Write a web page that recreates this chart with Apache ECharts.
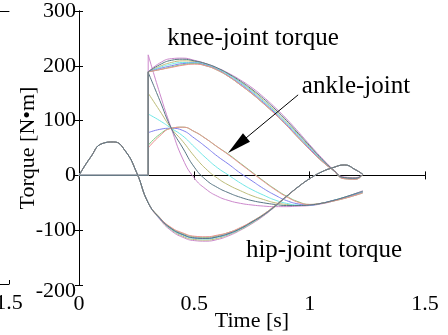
<!DOCTYPE html>
<html>
<head>
<meta charset="utf-8">
<script src="https://cdn.jsdelivr.net/npm/echarts@6/dist/echarts.min.js"></script>
<style>
html, body { margin: 0; padding: 0; background: #fff; }
#chart { width: 448px; height: 335px; }
</style>
</head>
<body>
<div id="chart"></div>
<script>
// axis ticks
var xTicks = [0, 0.5, 1, 1.5];
var yTicks = [-200, -100, 0, 100, 200, 300];

// time samples [s]
var tHip = [0, 0.05, 0.1, 0.15, 0.2, 0.25, 0.3, 0.35, 0.4, 0.45, 0.5, 0.55, 0.6, 0.65, 0.7,
  0.75, 0.8, 0.85, 0.9, 0.95, 1.0, 1.05, 1.1, 1.15, 1.2, 1.23];
var tPost = [0.3, 0.35, 0.4, 0.45, 0.5, 0.55, 0.6, 0.65, 0.7, 0.75, 0.8, 0.85, 0.9, 0.95,
  1.0, 1.05, 1.1, 1.15, 1.2, 1.23];
// before heel strike knee / ankle stay at 0, then jump
var tPre = [0, 0.3, 0.3];
var preZero = [0, 0];

// hip-joint torque, one array per run
var hipMagenta = [0, 33, 58, 61, 45, 5, -50, -80, -101, -113, -119, -120, -117, -110, -100, -88, -74, -57, -39, -21, -6, 6, 14, 19, 10, 2];
var hipOlive   = [0, 33, 58, 61, 45, 5, -50, -79, -99, -111, -117, -118, -115, -108, -99, -87, -73, -57, -39, -21, -6, 6, 14, 19, 10, 2];
var hipCyan    = [0, 33, 58, 61, 45, 5, -50, -78, -98, -109, -115, -116, -113, -107, -98, -86, -72, -56, -38, -21, -6, 6, 14, 19, 10, 2];
var hipBlue    = [0, 33, 58, 61, 45, 5, -50, -78, -97, -108, -114, -115, -112, -106, -97, -85, -72, -56, -38, -21, -6, 6, 14, 19, 10, 2];
var hipGreen   = [0, 33, 58, 61, 45, 5, -50, -77, -96, -106, -112, -113, -110, -104, -96, -84, -71, -55, -38, -21, -6, 6, 14, 19, 10, 2];
var hipRed     = [0, 33, 58, 61, 45, 5, -50, -77, -95, -105, -111, -112, -109, -104, -95, -84, -71, -55, -38, -21, -6, 6, 14, 19, 10, 2];
var hipDark    = [0, 33, 58, 61, 45, 5, -50, -78, -97, -108, -114, -115, -112, -106, -97, -85, -72, -56, -38, -21, -6, 6, 14, 19, 10, 2];

// knee-joint torque after heel strike
var kneeMagenta = [189, 205, 213, 214, 210, 204, 196, 186, 174, 160, 143, 124, 103, 80, 56, 33, 12, -3, -4, 2];
var kneeOlive   = [189, 199, 206, 209, 208, 203, 195, 184, 170, 155, 137, 118, 97, 75, 52, 30, 11, -4, -5, 2];
var kneeCyan    = [189, 197, 203, 206, 206, 202, 194, 183, 169, 153, 135, 116, 95, 73, 50, 29, 10, -5, -6, 2];
var kneeBlue    = [189, 195, 200, 204, 205, 201, 193, 181, 167, 151, 133, 114, 93, 71, 49, 28, 10, -5, -6, 2];
var kneeGreen   = [189, 193, 198, 202, 204, 200, 192, 180, 165, 149, 131, 112, 91, 69, 47, 27, 10, -6, -7, 2];
var kneeRed     = [189, 193, 197, 201, 203, 200, 192, 180, 165, 149, 131, 112, 91, 69, 47, 27, 10, -6, -7, 2];
var kneeDark    = [189, 202, 210, 212, 209, 204, 196, 185, 172, 157, 140, 121, 100, 77, 54, 31, 11, -4, -5, 2];

// ankle-joint torque after heel strike
var ankleMagenta = [220, 150, 86, 30, -5, -25, -38, -46, -51, -54, -56, -57, -57, -56, -55, -52, -47, -40, -33, -28];
var ankleOlive   = [150, 118, 86, 62, 35, 12, -5, -18, -28, -37, -44, -50, -53, -55, -54, -51, -46, -40, -34, -30];
var ankleCyan    = [112, 100, 86, 72, 52, 32, 14, 0, -14, -26, -36, -45, -51, -54, -54, -51, -46, -40, -34, -30];
var ankleBlue    = [78, 84, 86, 82, 68, 52, 35, 20, 4, -10, -24, -36, -46, -52, -54, -51, -46, -41, -35, -31];
var ankleGreen   = [55, 75, 86, 88, 80, 67, 52, 38, 22, 6, -10, -25, -38, -48, -53, -51, -47, -42, -36, -32];
var ankleRed     = [50, 72, 86, 88, 80, 67, 52, 37, 21, 5, -11, -26, -39, -49, -53, -51, -47, -42, -36, -32];
var ankleDark    = [188, 137, 86, 50, 15, -8, -22, -32, -40, -46, -50, -53, -55, -55, -54, -51, -46, -40, -33, -29];

// arrow pointing at the ankle curves [t, torque]
var arrowFrom = [0.95, 147];
var arrowTo = [0.686, 55];

var runColors = ['#cc88cc', '#bcbc78', '#70e8e8', '#8080ee', '#80cc80', '#ee9090', '#587684'];
var hipRuns = [hipMagenta, hipOlive, hipCyan, hipBlue, hipGreen, hipRed, hipDark];
var kneeRuns = [kneeMagenta, kneeOlive, kneeCyan, kneeBlue, kneeGreen, kneeRed, kneeDark];
var ankleRuns = [ankleMagenta, ankleOlive, ankleCyan, ankleBlue, ankleGreen, ankleRed, ankleDark];

var font = 'Liberation Serif';

function lineSeries(name, times, values, color, smooth) {
  return {
    name: name,
    type: 'line',
    xAxisIndex: 0,
    yAxisIndex: 0,
    data: times.map(function (t, i) { return [t, values[i]]; }),
    smooth: smooth,
    symbol: 'none',
    silent: true,
    animation: false,
    lineStyle: { color: color, width: 1 },
    emphasis: { disabled: true }
  };
}

var series = [];
// ankle + knee: flat part and jump (straight), then smooth curve
[['ankle', ankleRuns], ['knee', kneeRuns]].forEach(function (joint) {
  joint[1].forEach(function (run, i) {
    series.push(lineSeries(joint[0] + '-pre' + i, tPre, preZero.concat([run[0]]), runColors[i], false));
    series.push(lineSeries(joint[0] + i, tPost, run, runColors[i], true));
  });
});
hipRuns.forEach(function (run, i) {
  series.push(lineSeries('hip' + i, tHip, run, runColors[i], true));
});

// arrow to the ankle bundle
series[series.length - 1].markLine = {
  silent: true,
  animation: false,
  symbol: ['none', 'triangle'],
  symbolSize: [11, 24],
  label: { show: false },
  lineStyle: { color: '#000', width: 1, type: 'solid' },
  data: [[{ coord: arrowFrom }, { coord: arrowTo }]]
};

var axisLine = { show: true, lineStyle: { color: '#000', width: 1 } };
var tickIn = { show: true, inside: true, length: 4, lineStyle: { color: '#000' } };
var labelStyle = { color: '#000', fontFamily: font, fontSize: 22 };

var option = {
  backgroundColor: '#fff',
  animation: false,
  textStyle: { fontFamily: font },
  grid: [
    { left: 79, right: 23, top: 11, bottom: 50, outerBoundsMode: 'none' },
    // right edge of the neighbouring subplot
    { left: -400, right: 439, top: 11, bottom: 51, outerBoundsMode: 'none' }
  ],
  xAxis: [
    {
      type: 'value', gridIndex: 0, position: 'bottom',
      min: xTicks[0], max: xTicks[xTicks.length - 1], interval: 0.5,
      name: 'Time [s]', nameLocation: 'middle', nameGap: 25, nameMoveOverlap: false,
      nameTextStyle: labelStyle,
      axisLine: axisLine, axisTick: tickIn, splitLine: { show: false },
      axisLabel: Object.assign({ margin: 8 }, labelStyle)
    },
    {
      type: 'value', gridIndex: 0, position: 'top',
      min: xTicks[0], max: xTicks[xTicks.length - 1], interval: 0.5,
      axisLine: axisLine, axisTick: tickIn, splitLine: { show: false },
      axisLabel: { show: false }
    },
    {
      type: 'value', gridIndex: 1, position: 'bottom',
      min: 0, max: 1.5, interval: 0.5,
      axisLine: axisLine, axisTick: tickIn, splitLine: { show: false },
      axisLabel: Object.assign({ margin: 8 }, labelStyle)
    },
    {
      type: 'value', gridIndex: 1, position: 'top',
      min: 0, max: 1.5, interval: 0.5,
      axisLine: axisLine, axisTick: { show: false }, splitLine: { show: false },
      axisLabel: { show: false }
    }
  ],
  yAxis: [
    {
      type: 'value', gridIndex: 0, position: 'left',
      min: yTicks[0], max: yTicks[yTicks.length - 1], interval: 100,
      name: 'Torque [N\u2022m]', nameLocation: 'middle', nameGap: 40, nameMoveOverlap: false,
      nameTextStyle: labelStyle,
      axisLine: axisLine, axisTick: tickIn, splitLine: { show: false },
      axisLabel: Object.assign({
        margin: 3,
        formatter: function (v) { return v === yTicks[0] ? '{low|' + v + '}' : String(v); },
        rich: { low: { fontFamily: font, fontSize: 22, color: '#000', padding: [12, 0, 0, 0] } }
      }, labelStyle)
    },
    {
      type: 'value', gridIndex: 0, position: 'right',
      min: yTicks[0], max: yTicks[yTicks.length - 1], interval: 100,
      axisLine: axisLine, axisTick: tickIn, splitLine: { show: false },
      axisLabel: { show: false }
    },
    {
      type: 'value', gridIndex: 1, position: 'right',
      min: 0, max: 3, interval: 1,
      axisLine: axisLine, axisTick: tickIn, splitLine: { show: false },
      axisLabel: { show: false }
    }
  ],
  graphic: [
    { type: 'text', x: 253, y: 38, silent: true,
      style: { text: 'knee-joint torque', fontFamily: font, fontSize: 25, fill: '#000', align: 'center', verticalAlign: 'middle' } },
    { type: 'text', x: 356, y: 86, silent: true,
      style: { text: 'ankle-joint', fontFamily: font, fontSize: 25, fill: '#000', align: 'center', verticalAlign: 'middle' } },
    { type: 'text', x: 324, y: 250, silent: true,
      style: { text: 'hip-joint torque', fontFamily: font, fontSize: 25, fill: '#000', align: 'center', verticalAlign: 'middle' } }
  ],
  series: series
};

var myChart = echarts.init(document.getElementById('chart'));
myChart.setOption(option);
</script>
</body>
</html>
